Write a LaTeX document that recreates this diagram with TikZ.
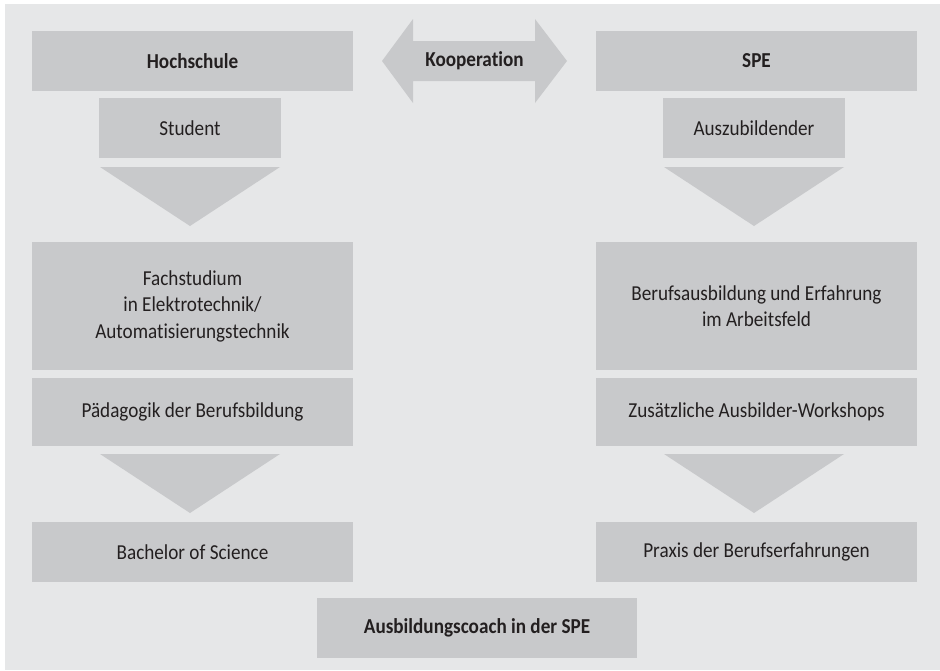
\documentclass[tikz,border=0pt]{standalone}
\usepackage{fontspec}
\setmainfont{Carlito}[FakeStretch=0.9,Ligatures=NoCommon]
\begin{document}
\begin{tikzpicture}[x=1pt,y=-1pt,
  every node/.style={inner sep=0pt,outer sep=0pt},
  box/.style={fill=boxgray,draw=none,text=txt,align=center,font=\fontsize{21.3}{26.5}\selectfont},
  boldbox/.style={box,font=\fontsize{21.3}{26.5}\selectfont\bfseries},
  tri/.style={fill=boxgray,draw=none}]
\definecolor{bggray}{RGB}{230,231,232}
\definecolor{boxgray}{RGB}{200,201,203}
\definecolor{txt}{RGB}{35,31,32}
\useasboundingbox (0,0) rectangle (940,670);
\fill[white] (0,0) rectangle (940,670);
\fill[bggray] (5,4) rectangle (940,670);
% left column
\node[boldbox,minimum width=321pt,minimum height=60pt] (hs) at (192.5,61) {Hochschule};
\node[box,minimum width=182pt,minimum height=60pt] (stud) at (190,128) {Student};
\fill[tri] (100,167) -- (280,167) -- (190,226) -- cycle;
\node[box,minimum width=321pt,minimum height=128pt] (fach) at (192.5,306) {Fachstudium\\in Elektrotechnik/\\Automatisierungstechnik};
\node[box,minimum width=321pt,minimum height=68pt] (paed) at (192.5,412) {Pädagogik der Berufsbildung};
\fill[tri] (100,454) -- (280,454) -- (190,513) -- cycle;
\node[box,minimum width=321pt,minimum height=60pt] (bach) at (192.5,552) {Bachelor of Science};
% right column
\node[boldbox,minimum width=321pt,minimum height=60pt] (spe) at (756.5,61) {SPE};
\node[box,minimum width=182pt,minimum height=60pt] (azubi) at (754,128) {Auszubildender};
\fill[tri] (664,167) -- (844,167) -- (754,226) -- cycle;
\node[box,minimum width=321pt,minimum height=128pt] (beruf) at (756.5,306) {Berufsausbildung und Erfahrung\\im Arbeitsfeld};
\node[box,minimum width=321pt,minimum height=68pt] (zus) at (756.5,412) {Zusätzliche Ausbilder-Workshops};
\fill[tri] (664,454) -- (844,454) -- (754,513) -- cycle;
\node[box,minimum width=321pt,minimum height=60pt] (praxis) at (756.5,552) {Praxis der Berufserfahrungen};
% bottom
\node[boldbox,minimum width=320pt,minimum height=60pt] (coach) at (477,628) {Ausbildungscoach in der SPE};
% cooperation arrow
\fill[boxgray] (382,61) -- (413,19) -- (413,41) -- (535,41) -- (535,19) -- (567,61)
  -- (535,103) -- (535,81) -- (413,81) -- (413,103) -- cycle;
\node[text=txt,font=\fontsize{21.3}{26.5}\selectfont\bfseries] (koop) at (474.5,61) {Kooperation};
\end{tikzpicture}
\end{document}
